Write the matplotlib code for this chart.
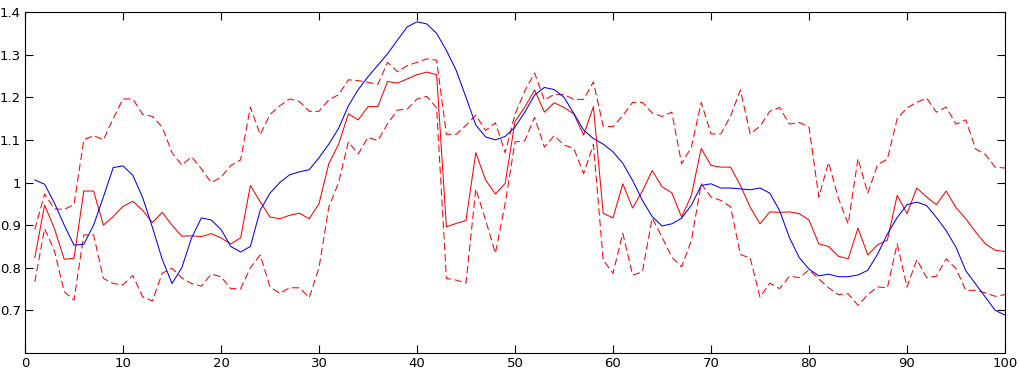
import numpy as np
import matplotlib
matplotlib.use("Agg")
import matplotlib.pyplot as plt
from matplotlib.ticker import FuncFormatter

# ── Data ─────────────────────────────────────────────────────────────────
x = np.arange(1, 101)

blue = [1.006, 0.996, 0.952, 0.900, 0.853, 0.855, 0.900, 0.966, 1.035, 1.039,
        1.017, 0.965, 0.895, 0.820, 0.763, 0.800, 0.870, 0.917, 0.912, 0.890,
        0.850, 0.837, 0.850, 0.935, 0.975, 1.000, 1.018, 1.025, 1.030, 1.058,
        1.090, 1.127, 1.180, 1.218, 1.248, 1.275, 1.302, 1.334, 1.365, 1.377,
        1.372, 1.350, 1.310, 1.263, 1.200, 1.135, 1.107, 1.100, 1.108, 1.130,
        1.165, 1.205, 1.223, 1.218, 1.200, 1.162, 1.123, 1.103, 1.090, 1.072,
        1.045, 1.005, 0.958, 0.920, 0.898, 0.903, 0.916, 0.947, 0.993, 0.997,
        0.987, 0.987, 0.985, 0.983, 0.987, 0.975, 0.934, 0.871, 0.824, 0.797,
        0.781, 0.785, 0.779, 0.779, 0.783, 0.794, 0.832, 0.879, 0.918, 0.948,
        0.954, 0.946, 0.918, 0.887, 0.848, 0.793, 0.762, 0.731, 0.700, 0.689]

mean = [0.824, 0.947, 0.892, 0.820, 0.822, 0.980, 0.980, 0.900, 0.920, 0.944,
        0.956, 0.935, 0.906, 0.930, 0.900, 0.874, 0.875, 0.873, 0.880, 0.870,
        0.856, 0.870, 0.993, 0.955, 0.919, 0.915, 0.923, 0.928, 0.915, 0.950,
        1.044, 1.090, 1.161, 1.147, 1.178, 1.178, 1.237, 1.233, 1.243, 1.253,
        1.259, 1.253, 0.896, 0.904, 0.911, 1.070, 1.006, 0.973, 0.998, 1.143,
        1.177, 1.217, 1.165, 1.187, 1.176, 1.161, 1.111, 1.178, 0.928, 0.917,
        0.997, 0.940, 0.980, 1.028, 0.990, 0.976, 0.919, 0.970, 1.080, 1.040,
        1.036, 1.036, 0.993, 0.942, 0.903, 0.931, 0.930, 0.931, 0.927, 0.912,
        0.856, 0.850, 0.827, 0.821, 0.893, 0.830, 0.854, 0.865, 0.970, 0.927,
        0.987, 0.966, 0.948, 0.980, 0.941, 0.915, 0.884, 0.856, 0.841, 0.838]

upper = [0.890, 0.973, 0.938, 0.937, 0.948, 1.100, 1.110, 1.100, 1.150, 1.196,
         1.196, 1.160, 1.155, 1.130, 1.070, 1.041, 1.060, 1.032, 1.000, 1.012,
         1.040, 1.053, 1.177, 1.112, 1.160, 1.180, 1.196, 1.190, 1.167, 1.167,
         1.194, 1.206, 1.241, 1.239, 1.235, 1.230, 1.282, 1.260, 1.274, 1.282,
         1.290, 1.287, 1.113, 1.113, 1.134, 1.158, 1.122, 1.140, 1.070, 1.160,
         1.215, 1.257, 1.193, 1.207, 1.206, 1.195, 1.195, 1.236, 1.132, 1.131,
         1.157, 1.188, 1.188, 1.163, 1.155, 1.165, 1.044, 1.083, 1.188, 1.114,
         1.114, 1.156, 1.217, 1.114, 1.132, 1.167, 1.176, 1.137, 1.141, 1.130,
         0.966, 1.047, 0.963, 0.903, 1.056, 0.975, 1.042, 1.055, 1.150, 1.175,
         1.188, 1.198, 1.165, 1.177, 1.137, 1.147, 1.079, 1.066, 1.036, 1.034]

lower = [0.767, 0.892, 0.840, 0.744, 0.724, 0.877, 0.877, 0.775, 0.763, 0.760,
         0.782, 0.732, 0.722, 0.787, 0.799, 0.776, 0.763, 0.757, 0.785, 0.779,
         0.751, 0.751, 0.800, 0.830, 0.755, 0.740, 0.753, 0.753, 0.730, 0.800,
         0.942, 1.000, 1.095, 1.067, 1.106, 1.098, 1.138, 1.170, 1.172, 1.196,
         1.202, 1.175, 0.775, 0.771, 0.764, 0.985, 0.912, 0.834, 0.951, 1.095,
         1.098, 1.153, 1.083, 1.110, 1.088, 1.080, 1.021, 1.089, 0.818, 0.787,
         0.881, 0.783, 0.790, 0.917, 0.872, 0.825, 0.802, 0.864, 0.997, 0.966,
         0.958, 0.943, 0.831, 0.823, 0.731, 0.764, 0.751, 0.780, 0.777, 0.795,
         0.774, 0.753, 0.737, 0.739, 0.712, 0.737, 0.755, 0.753, 0.856, 0.755,
         0.819, 0.777, 0.780, 0.821, 0.798, 0.747, 0.747, 0.741, 0.733, 0.737]

x_ticks = np.arange(0, 101, 10)
y_ticks = [0.7, 0.8, 0.9, 1.0, 1.1, 1.2, 1.3, 1.4]

# ── Figure ───────────────────────────────────────────────────────────────
fig = plt.figure(figsize=(10.2, 3.75), dpi=100)
ax = fig.add_axes([25 / 1020, 1 - 353 / 375, 980 / 1020, 341 / 375])

lw = 0.75
ax.plot(x, upper, color="red", lw=lw, dashes=(7, 3.5))
ax.plot(x, lower, color="red", lw=lw, dashes=(7, 3.5))
ax.plot(x, mean, color="red", lw=lw)
ax.plot(x, blue, color="blue", lw=lw)

ax.set_xlim(0, 100)
ax.set_ylim(0.6, 1.4)
ax.set_xticks(x_ticks)
ax.set_yticks(y_ticks)
ax.yaxis.set_major_formatter(FuncFormatter(lambda v, p: f"{v:g}"))
ax.tick_params(direction="in", length=6, width=0.8, top=True, right=True,
               labelsize=9.5, pad=3)
for s in ax.spines.values():
    s.set_linewidth(0.8)

fig.savefig("out.png", dpi=100)
